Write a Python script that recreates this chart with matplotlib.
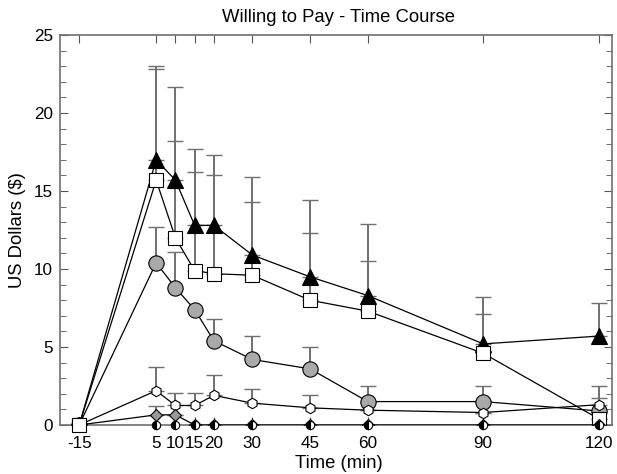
import numpy as np
import matplotlib
matplotlib.use("Agg")
import matplotlib.pyplot as plt

plt.rcParams['font.family'] = ['Liberation Sans', 'DejaVu Sans']
plt.rcParams['axes.unicode_minus'] = False

tempos = [-15, 5, 10, 15, 20, 30, 45, 60, 90, 120]

# medias de cada grupo
triangulos = [0, 17.0, 15.7, 12.8, 12.8, 10.9, 9.5, 8.3, 5.2, 5.7]
quadrados = [0, 15.7, 12.0, 9.9, 9.7, 9.6, 8.0, 7.3, 4.6, 0.4]
circulos = [0, 10.4, 8.8, 7.4, 5.4, 4.2, 3.6, 1.5, 1.5, 0.9]
hexagonos = [0, 2.2, 1.25, 1.25, 1.9, 1.4, 1.1, 0.95, 0.8, 1.3]
diamantes = [0, 0.65, 0.65, 0, 0, 0, 0, 0, 0, 0]
zeros = [0, 0, 0, 0, 0, 0, 0, 0, 0, 0]

# topo das barras de erro
topo_triangulos = [0, 23.0, 21.7, 17.7, 17.3, 15.9, 14.4, 12.9, 8.2, 7.8]
topo_quadrados = [0, 22.8, 18.2, 16.2, 16.0, 14.3, 12.3, 10.5, 7.1, 0.4]
topo_circulos = [0, 12.7, 11.1, 7.4, 6.8, 5.7, 5.0, 2.5, 2.5, 2.5]
topo_hexagonos = [0, 3.7, 2.05, 2.05, 3.2, 2.3, 1.9, 0.95, 0.8, 1.7]
topo_diamantes = [0, 1.2, 0.65, 0, 0, 0, 0, 0, 0, 0]

fig = plt.figure(figsize=(6.17, 4.74), dpi=100)
ax = fig.add_axes([0.0972, 0.1034, 0.8948, 0.8226])

cor_erro = '#707070'


def serie(y, topo, marker, face, ms, z):
    y = np.array(y)
    topo = np.array(topo)
    sup = np.clip(topo - y, 0, None)
    eb = ax.errorbar(tempos, y, yerr=[np.zeros_like(y), sup], fmt='none',
                     ecolor=cor_erro, elinewidth=1.4, capsize=6, capthick=1.0,
                     zorder=2)
    for cap in eb[1]:
        cap.set_color('#303030')
    ax.plot(tempos, y, color='black', lw=0.9, marker=marker, ms=ms,
            markerfacecolor=face, markeredgecolor='black', mew=0.8,
            zorder=z)


serie(triangulos, topo_triangulos, '^', 'black', 11, 3)
serie(circulos, topo_circulos, 'o', '#a9a9a9', 11, 4)
serie(hexagonos, topo_hexagonos, 'h', 'white', 7.5, 5)
serie(quadrados, topo_quadrados, 's', 'white', 10, 6)
serie(diamantes, topo_diamantes, 'D', '#999999', 6.5, 7)

ax.plot(tempos[1:], zeros[1:], ls='none', marker='o', ms=6,
        fillstyle='left', markerfacecolor='black', markerfacecoloralt='white',
        markeredgecolor='black', mew=0.8, zorder=8, clip_on=False)
# quadrado do tempo -15 por cima
ax.plot(tempos[0], 0, marker='s', ms=10, markerfacecolor='white',
        markeredgecolor='black', mew=0.8, zorder=9, clip_on=False)

ax.set_xlim(-20, 123.5)
ax.set_ylim(0, 25)
ax.set_xticks(tempos)
ax.set_yticks([0, 5, 10, 15, 20, 25])
ax.set_yticks(np.arange(0, 26, 1), minor=True)
ax.tick_params(axis='both', which='both', direction='in', top=True, right=True,
               color='#555555', labelsize=12.3)
ax.tick_params(axis='both', which='major', length=6)
ax.tick_params(axis='both', which='minor', length=4)
ax.tick_params(axis='x', pad=8)
ax.tick_params(axis='y', pad=5)
for s in ax.spines.values():
    s.set_color('#707070')
    s.set_linewidth(1.2)

fig.text(339 / 617, 1 - 18 / 474, 'Willing to Pay - Time Course', fontsize=13.3,
         ha='center', va='center')
ax.set_xlabel('Time (min)', fontsize=13.3)
ax.xaxis.set_label_coords(0.505, -0.078)
ax.set_ylabel('US Dollars ($)', fontsize=13.3)
ax.yaxis.set_label_coords(-0.062, 0.5)

fig.savefig('out.png', dpi=100)
